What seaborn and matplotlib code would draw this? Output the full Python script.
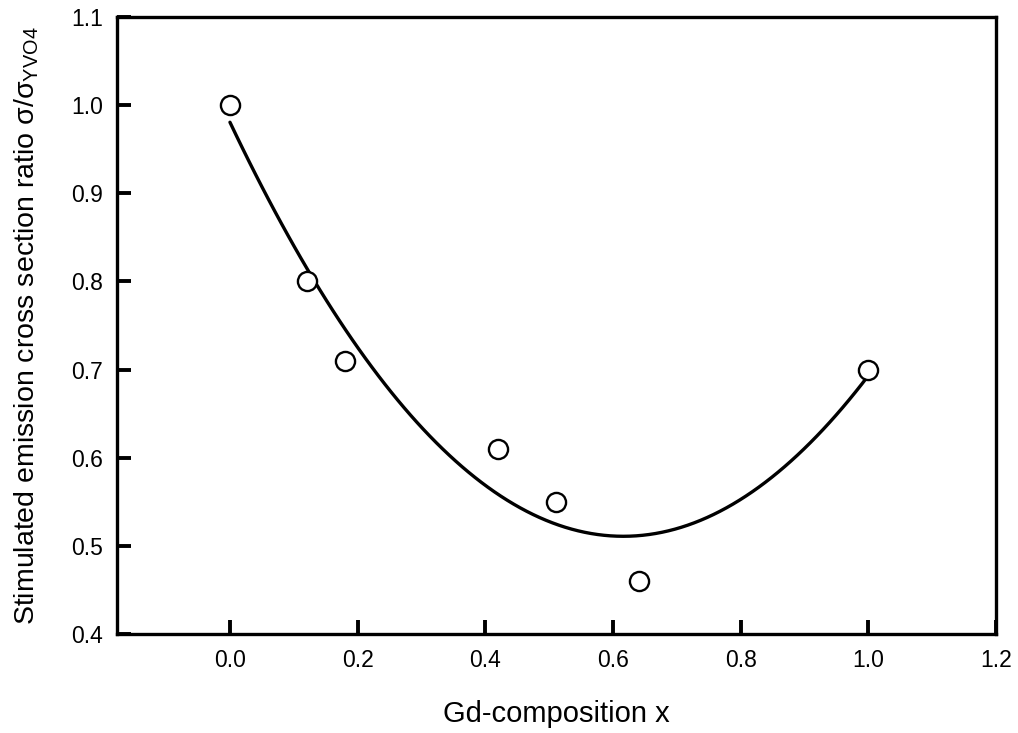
import matplotlib
matplotlib.use("Agg")
import matplotlib.pyplot as plt
import seaborn as sns
import pandas as pd

# Gd composition and measured cross-section ratio
gd_x = [0.0, 0.12, 0.18, 0.42, 0.51, 0.64, 1.0]
sigma_ratio = [1.0, 0.80, 0.71, 0.61, 0.55, 0.46, 0.70]

x_ticks = [0.0, 0.2, 0.4, 0.6, 0.8, 1.0, 1.2]
y_ticks = [0.4, 0.5, 0.6, 0.7, 0.8, 0.9, 1.0, 1.1]

sns.set_theme(style="white")
plt.rcParams["font.family"] = ["Liberation Sans", "DejaVu Sans"]
plt.rcParams["mathtext.fontset"] = "custom"
plt.rcParams["mathtext.rm"] = "Liberation Sans"

df = pd.DataFrame({"x": gd_x, "ratio": sigma_ratio})

fig = plt.figure(figsize=(10.18, 7.33), dpi=100)
ax = fig.add_axes([0.1149, 0.135, 0.8635, 0.842])

# second-order polynomial regression over the measured range
sns.regplot(data=df, x="x", y="ratio", order=2, ci=None, scatter=False,
            truncate=True, ax=ax, line_kws=dict(color="black", lw=2.4))
sns.scatterplot(data=df, x="x", y="ratio", ax=ax, marker="o", s=190,
                facecolor="white", edgecolor="black", linewidth=1.7, zorder=3)

ax.set_xlim(-0.177, 1.2)
ax.set_ylim(0.4, 1.1)
ax.set_xticks(x_ticks)
ax.set_yticks(y_ticks)
ax.set_xticklabels([f"{v:.1f}" for v in x_ticks])
ax.set_yticklabels([f"{v:.1f}" for v in y_ticks])

ax.tick_params(axis="both", direction="in", length=10, width=2.8,
               color="black", labelsize=16.5, labelcolor="black",
               bottom=True, left=True, top=False, right=False)
ax.tick_params(axis="x", pad=11)
ax.tick_params(axis="y", pad=10)

for sp in ax.spines.values():
    sp.set_visible(True)
    sp.set_color("black")
    sp.set_linewidth(2.4)

ax.set_xlabel("Gd-composition x", fontsize=21, color="black", labelpad=20)
ax.set_ylabel(r"Stimulated emission cross section ratio σ/σ$_{\mathrm{YVO4}}$",
              fontsize=20.5, color="black", labelpad=22)

fig.savefig("out.png", dpi=100)
